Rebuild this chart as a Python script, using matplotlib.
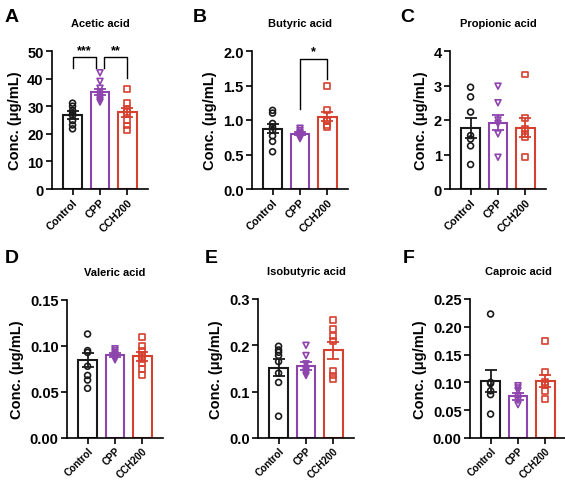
import numpy as np
import matplotlib
matplotlib.use("Agg")
import matplotlib.pyplot as plt

plt.rcParams['font.family'] = ['Liberation Sans', 'DejaVu Sans']
plt.rcParams['font.weight'] = 'bold'

groups = ["Control", "CPP", "CCH200"]
colors = ["#1a1a1a", "#8e44ad", "#d6402f"]
markers = ["o", "v", "s"]

titles = ["Acetic acid", "Butyric acid", "Propionic acid",
          "Valeric acid", "Isobutyric acid", "Caproic acid"]
letters = ["A", "B", "C", "D", "E", "F"]

# individual points
acetic = [[31.1, 30.0, 28.5, 27.5, 26.6, 24.8, 23.2, 21.8],
          [42.1, 39.0, 36.5, 35.2, 34.0, 33.0, 32.2, 31.5],
          [36.3, 31.1, 29.0, 28.0, 27.0, 25.0, 23.0, 21.3]]
butyric = [[1.14, 1.10, 0.95, 0.90, 0.85, 0.77, 0.69, 0.54],
           [0.88, 0.85, 0.82, 0.80, 0.78, 0.77, 0.75, 0.73],
           [1.49, 1.15, 1.00, 0.98, 0.92, 0.90]]
propionic = [[2.95, 2.67, 2.23, 1.55, 1.45, 1.25, 0.71],
             [2.98, 2.50, 2.00, 1.90, 1.60, 0.92],
             [3.32, 2.07, 1.75, 1.60, 1.50, 0.93]]
valeric = [[0.113, 0.095, 0.093, 0.078, 0.068, 0.063, 0.054],
           [0.097, 0.095, 0.093, 0.091, 0.089, 0.087, 0.085],
           [0.110, 0.100, 0.095, 0.090, 0.086, 0.082, 0.075, 0.068]]
isobutyric = [[0.198, 0.190, 0.185, 0.178, 0.165, 0.140, 0.120, 0.047],
              [0.200, 0.178, 0.160, 0.150, 0.145, 0.140, 0.135],
              [0.255, 0.235, 0.220, 0.210, 0.145, 0.135, 0.127]]
caproic = [[0.223, 0.100, 0.098, 0.085, 0.078, 0.043],
           [0.094, 0.090, 0.085, 0.075, 0.068, 0.060],
           [0.174, 0.119, 0.100, 0.095, 0.085, 0.070]]

# bar heights (mean) and error (SEM)
means = [[26.8, 35.2, 27.8], [0.875, 0.80, 1.05], [1.77, 1.92, 1.78],
         [0.0845, 0.090, 0.089], [0.152, 0.155, 0.189], [0.102, 0.075, 0.102]]
sems = [[1.3, 1.2, 1.6], [0.07, 0.02, 0.07], [0.28, 0.22, 0.27],
        [0.0075, 0.002, 0.005], [0.018, 0.009, 0.018], [0.020, 0.006, 0.011]]

ymax = [50, 2.0, 4, 0.15, 0.3, 0.25]
ystep = [10, 0.5, 1, 0.05, 0.1, 0.05]
yfmt = ["%d", "%.1f", "%d", "%.2f", "%.1f", "%.2f"]
points = [acetic, butyric, propionic, valeric, isobutyric, caproic]

# axes boxes in pixels: left, right, top, bottom
boxes = [(52, 148, 52, 190), (252, 348, 52, 190), (450, 546, 52, 190),
         (67, 163, 301, 439), (258, 354, 300, 439), (470, 566, 300, 439)]
letter_pos = [(5, 22), (193, 22), (400, 22), (5, 263), (205, 263), (403, 263)]

W, H = 565, 481
fig = plt.figure(figsize=(W / 100, H / 100), dpi=100)

for i in range(6):
    l, r, t, b = boxes[i]
    ax = fig.add_axes([l / W, 1 - b / H, (r - l) / W, (b - t) / H])
    for g in range(3):
        ax.bar(g, means[i][g], width=0.68, facecolor="white",
               edgecolor=colors[g], linewidth=1.5, zorder=1)
        ys = points[i][g]
        ax.scatter([g] * len(ys), ys, marker=markers[g], s=18,
                   facecolors="none", edgecolors=colors[g], linewidths=1.2, zorder=3)
        ax.errorbar(g, means[i][g], yerr=sems[i][g], color=colors[g],
                    capsize=4, elinewidth=1.3, capthick=1.3, zorder=4)
    ax.set_xlim(-0.75, 2.75)
    ax.set_ylim(0, ymax[i])
    ax.set_yticks(np.arange(0, ymax[i] + ystep[i] / 2, ystep[i]))
    ax.set_yticklabels([yfmt[i] % v for v in ax.get_yticks()], fontsize=10.5, fontweight="bold")
    ax.set_xticks(range(3))
    ax.set_xticklabels(groups, rotation=45, ha="right", rotation_mode="anchor",
                       fontsize=7.8 if i < 3 else 7.2, fontweight="bold")
    for s in ["top", "right"]:
        ax.spines[s].set_visible(False)
    for s in ["left", "bottom"]:
        ax.spines[s].set_linewidth(1.2)
    ax.tick_params(width=1.2, length=4, pad=2)
    ax.tick_params(axis="x", pad=1.5 if i < 3 else 1)
    ax.set_ylabel("Conc. (μg/mL)", fontsize=10.5, fontweight="bold", labelpad=4)
    ax.set_title(titles[i], fontsize=8, fontweight="bold", pad=18)
    fig.text(letter_pos[i][0] / W, 1 - letter_pos[i][1] / H, letters[i],
             fontsize=14, fontweight="bold")

    if i == 0:
        ax.plot([0, 0, 0.85, 0.85], [43.8, 47.8, 47.8, 43.8], color="k", lw=1)
        ax.text(0.42, 48.0, "***", ha="center", va="bottom", fontsize=9)
        ax.plot([1.15, 1.15, 2, 2], [43.8, 47.8, 47.8, 40.2], color="k", lw=1)
        ax.text(1.57, 48.0, "**", ha="center", va="bottom", fontsize=9)
    if i == 1:
        ax.plot([1, 1, 2, 2], [1.16, 1.89, 1.89, 1.6], color="k", lw=1)
        ax.text(1.5, 1.91, "*", ha="center", va="bottom", fontsize=9)

fig.savefig("out.png", dpi=100)
